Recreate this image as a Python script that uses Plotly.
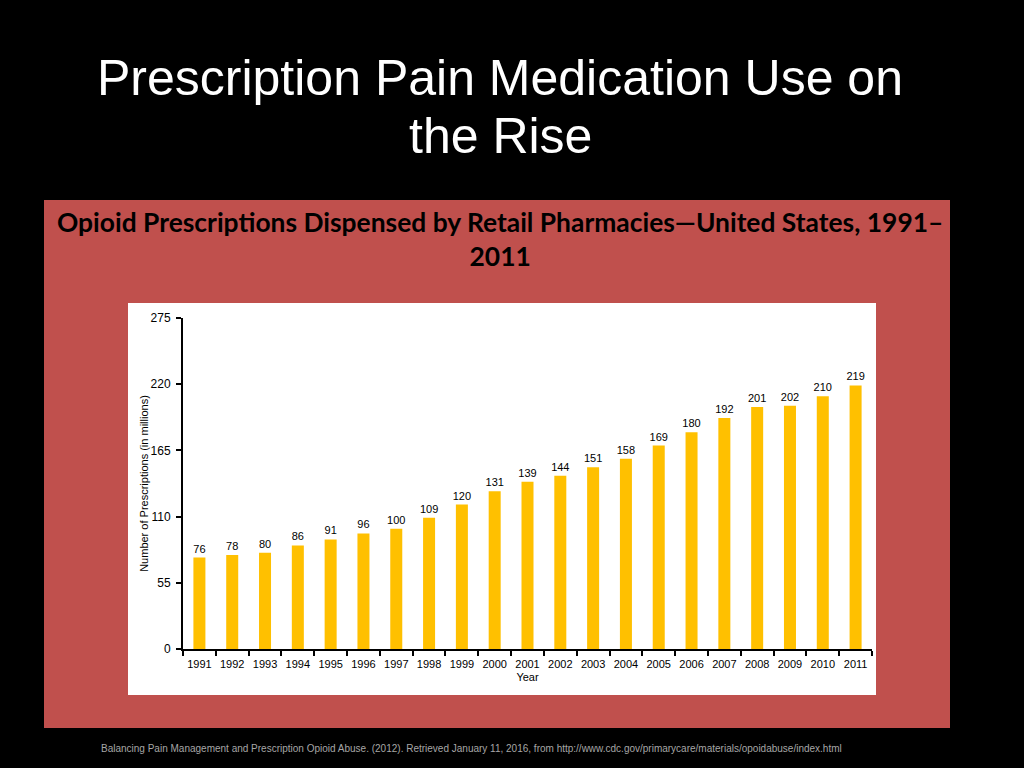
import plotly.graph_objects as go

years = [str(y) for y in range(1991, 2012)]
prescriptions = [76, 78, 80, 86, 91, 96, 100, 109, 120, 131, 139, 144, 151, 158, 169, 180, 192, 201, 202, 210, 219]
y_ticks = [0, 55, 110, 165, 220, 275]

W, H = 1024, 768
L, R, T, B = 183, 872, 318, 649  # plot area in pixels


def px(x):
    return (x - L) / (R - L)


def py(y):
    return (B - y) / (B - T)


label_font = dict(family="Liberation Sans, Arial", size=11, color="#000000")

fig = go.Figure()
fig.add_trace(go.Bar(
    x=years, y=prescriptions, width=0.366,
    marker=dict(color="#FFC000", line=dict(width=0)),
    text=[str(v) for v in prescriptions], textposition="outside",
    constraintext="none",
    textfont=label_font, outsidetextfont=label_font,
    cliponaxis=False, hoverinfo="x+y",
))

fig.update_layout(
    width=W, height=H,
    paper_bgcolor="#000000", plot_bgcolor="#FFFFFF",
    margin=dict(l=L, r=W - R, t=T, b=H - B),
    showlegend=False,
    font=dict(family="Liberation Sans, Arial", color="#000"),
    xaxis=dict(
        type="category", range=[-0.5, 20.5], tickson="boundaries",
        ticks="outside", ticklen=5, tickwidth=2, tickcolor="#000",
        showline=True, linecolor="#000", linewidth=2, showgrid=False,
        tickangle=0, ticklabelstandoff=4,
        tickfont=dict(size=11, color="#000"),
        title=dict(text="Year", font=dict(size=11, color="#000"), standoff=4),
    ),
    yaxis=dict(
        range=[0, 275], tickvals=y_ticks, ticks="outside", ticklen=5,
        tickwidth=2, tickcolor="#000", showline=True, linecolor="#000",
        linewidth=2, showgrid=False, zeroline=False,
        ticklabelstandoff=3,
        tickfont=dict(size=12, color="#000"),
        title=dict(text="Number of Prescriptions (in millions)",
                   font=dict(size=11, color="#000"), standoff=0),
    ),
    bargap=0.6,
)

# red panel and white chart box
fig.add_shape(type="rect", xref="paper", yref="paper", layer="below",
              x0=px(44), x1=px(950), y0=py(728), y1=py(200),
              fillcolor="#C0504D", line=dict(width=0))
fig.add_shape(type="rect", xref="paper", yref="paper", layer="below",
              x0=px(128), x1=px(876), y0=py(695), y1=py(303),
              fillcolor="#FFFFFF", line=dict(width=0))

title_font = dict(family="Liberation Sans, Arial", size=50, color="#FFFFFF")
fig.add_annotation(xref="paper", yref="paper", x=px(500), y=py(78),
                   xanchor="center", yanchor="middle",
                   text="Prescription Pain Medication Use on",
                   showarrow=False, font=title_font)
fig.add_annotation(xref="paper", yref="paper", x=px(500), y=py(136),
                   xanchor="center", yanchor="middle",
                   text="the Rise",
                   showarrow=False, font=title_font)
fig.add_annotation(xref="paper", yref="paper", x=px(500), y=py(239),
                   xanchor="center", yanchor="middle",
                   text="<b>Opioid Prescriptions Dispensed by Retail Pharmacies—United States, 1991–<br>2011</b>",
                   showarrow=False, font=dict(family="Lato, Open Sans", size=26.4, color="#000"),
                   align="center")
fig.add_annotation(xref="paper", yref="paper", x=px(471), y=py(748),
                   xanchor="center", yanchor="middle",
                   text="Balancing Pain Management and Prescription Opioid Abuse. (2012). Retrieved January 11, 2016, from http://www.cdc.gov/primarycare/materials/opoidabuse/index.html",
                   showarrow=False, font=dict(family="Liberation Sans Narrow, Liberation Sans, Arial", size=10, color="#A6A6A6"))

fig.write_html("out.html", config={"displayModeBar": False},
               post_script="document.body.style.margin='0';document.body.style.background='#000';")
